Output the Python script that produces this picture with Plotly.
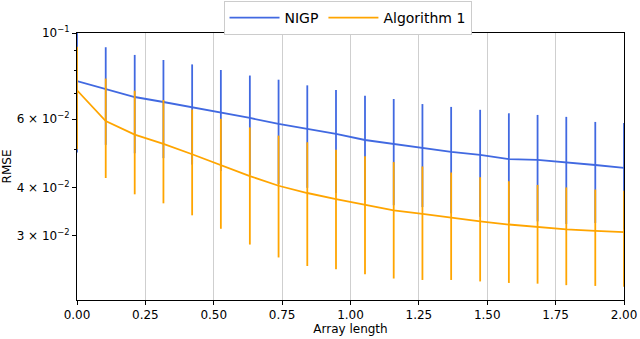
import plotly.graph_objects as go

# array length (x), 20 points
array_length = [0.000, 0.105, 0.211, 0.316, 0.421, 0.526, 0.632, 0.737, 0.842, 0.947,
                1.053, 1.158, 1.263, 1.368, 1.474, 1.579, 1.684, 1.789, 1.895, 2.000]

# NIGP
nigp_rmse = [0.0752, 0.0717, 0.0684, 0.0664, 0.0644, 0.0622, 0.0604, 0.0583, 0.0566, 0.0550,
             0.0530, 0.0518, 0.0506, 0.0494, 0.0485, 0.0473, 0.0471, 0.0465, 0.0457, 0.0449]
nigp_err = [0.0260, 0.0202, 0.0194, 0.0188, 0.0186, 0.0181, 0.0173, 0.0175, 0.0167, 0.0163,
            0.0159, 0.0158, 0.0150, 0.0151, 0.0149, 0.0148, 0.0144, 0.0143, 0.0133, 0.0137]

# Algorithm 1
alg_rmse = [0.0712, 0.0593, 0.0547, 0.0518, 0.0487, 0.0457, 0.0428, 0.0404, 0.0387, 0.0373,
            0.0360, 0.0349, 0.0342, 0.0334, 0.0327, 0.0321, 0.0316, 0.0312, 0.0309, 0.0307]
alg_err = [0.0210, 0.0170, 0.0163, 0.0154, 0.0148, 0.0144, 0.0143, 0.0140, 0.0136, 0.0127,
           0.0121, 0.0116, 0.0111, 0.0103, 0.0098, 0.0094, 0.0090, 0.0088, 0.0086, 0.0085]

x_ticks = [0, 0.25, 0.5, 0.75, 1.0, 1.25, 1.5, 1.75, 2.0]
x_ticktext = ["0.00", "0.25", "0.50", "0.75", "1.00", "1.25", "1.50", "1.75", "2.00"]
y_ticks = [0.03, 0.04, 0.06, 0.1]
y_ticktext = ["3 × 10<sup>−2</sup>", "4 × 10<sup>−2</sup>", "6 × 10<sup>−2</sup>", "10<sup>−1</sup>"]
y_minor = [0.05, 0.07, 0.08, 0.09]

BLUE = "#4169e1"
ORANGE = "#ffa500"

fig = go.Figure()

fig.add_trace(go.Scatter(
    x=array_length, y=nigp_rmse, mode="lines", name="NIGP",
    line=dict(color=BLUE, width=1.8),
    error_y=dict(type="data", array=nigp_err, color=BLUE, thickness=1.8, width=0),
))

fig.add_trace(go.Scatter(
    x=array_length, y=alg_rmse, mode="lines", name="Algorithm 1",
    line=dict(color=ORANGE, width=1.8),
    error_y=dict(type="data", array=alg_err, color=ORANGE, thickness=1.8, width=0),
))

fig.update_layout(
    width=640, height=339,
    margin=dict(l=77, r=16, t=33, b=39, autoexpand=False),
    paper_bgcolor="white", plot_bgcolor="white",
    font=dict(family="DejaVu Sans", size=12, color="black"),
    showlegend=True,
    legend=dict(
        orientation="h",
        xref="container", x=0.543, xanchor="center",
        yref="container", y=0.997, yanchor="top",
        bordercolor="#cccccc", borderwidth=1, bgcolor="white",
        font=dict(size=14), itemwidth=50,
    ),
)

fig.update_xaxes(
    range=[0, 2], tickvals=x_ticks, ticktext=x_ticktext,
    showgrid=True, gridcolor="#cfcfcf", gridwidth=1.2,
    showline=True, linecolor="black", linewidth=1, mirror=True,
    ticks="outside", ticklen=4, tickcolor="black",
    zeroline=False, automargin=False,
    title=dict(text="Array length", standoff=3, font=dict(size=12)),
)

fig.update_yaxes(
    type="log", range=[-1.688, -1.0],
    tickvals=y_ticks, ticktext=y_ticktext,
    showgrid=False,
    showline=True, linecolor="black", linewidth=1, mirror=True,
    ticks="outside", ticklen=4, tickcolor="black",
    minor=dict(tickvals=y_minor, ticks="outside", ticklen=2, tickcolor="black", showgrid=False),
    zeroline=False, automargin=False,
    title=dict(text="RMSE", standoff=4, font=dict(size=12)),
)

# page body has a default 8px margin; drop it so the figure sits at the window corner
fig.write_html("out.html", config={"displayModeBar": False},
               post_script="document.body.style.margin='0';")
